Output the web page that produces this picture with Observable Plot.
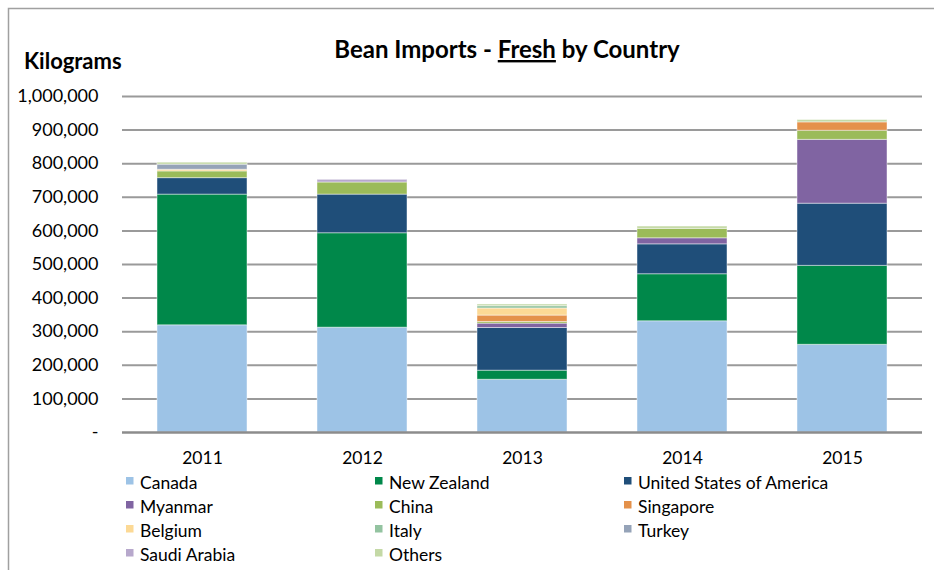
<!DOCTYPE html>
<html><head><meta charset="utf-8">
<script src="https://cdn.jsdelivr.net/npm/d3@7"></script>
<script src="https://cdn.jsdelivr.net/npm/@observablehq/plot@0.6"></script>
<style>
html,body{margin:0;padding:0;background:#fff;}
svg{display:block;}
</style>
</head><body>
<div id="chart"></div>
<script>
const years = ["2011","2012","2013","2014","2015"];
const countries = ["Canada","New Zealand","United States of America","Myanmar","China","Singapore","Belgium","Italy","Turkey","Saudi Arabia","Others"];
const colors = ["#9DC3E6","#00884A","#1F4E79","#8064A2","#9BBB59","#E4914A","#FCD995","#93C3A0","#95A3B8","#B7A8CC","#C4D9A6"];
const canada      = [319000,312000,157000,331000,261000];
const newZealand  = [389000,281000, 27000,140000,235000];
const usa         = [ 49000,115000,127000, 89000,185000];
const myanmar     = [     0,     0, 13000, 18000,190000];
const china       = [ 20000, 36000,  5000, 28000, 27000];
const singapore   = [     0,     0, 19000,     0, 25000];
const belgium     = [  5000,     0, 21000,     0,     0];
const italy       = [     0,     0,  7000,     0,     0];
const turkey      = [ 15000,     0,     0,     0,     0];
const saudiArabia = [     0,  8000,     0,     0,     0];
const others      = [  6000,     0,  5000,  7000,  7000];
const yTicks = [0,100000,200000,300000,400000,500000,600000,700000,800000,900000,1000000];

const series = [canada,newZealand,usa,myanmar,china,singapore,belgium,italy,turkey,saudiArabia,others];
const data = [];
countries.forEach((c,i)=>years.forEach((y,j)=>data.push({year:y,country:c,value:series[i][j]})));

const W=934,H=570,mL=122,mR=12,mT=96,mB=138;
const fontFam = "Lato, 'Open Sans', sans-serif";

const svg = Plot.plot({
  width:W,height:H,marginLeft:mL,marginRight:mR,marginTop:mT,marginBottom:mB,
  style:{fontFamily:fontFam,fontSize:"17px",color:"#000",background:"#fff"},
  x:{domain:years,paddingInner:0.4375,paddingOuter:0.21875,label:null},
  y:{domain:[0,1000000],label:null},
  color:{domain:countries,range:colors},
  marks:[
    Plot.ruleY(yTicks.filter(d=>d>0),{stroke:"#9a9a9a",strokeWidth:2}),
    Plot.barY(data,{x:"year",y:"value",fill:"country",stroke:"#ffffff",strokeOpacity:0.45,strokeWidth:1,order:countries}),
    Plot.ruleY([0],{stroke:"#8c8c8c",strokeWidth:2.5}),
    Plot.axisY({ticks:yTicks,tickSize:0,tickPadding:24,fontSize:18,
      tickFormat:d=>d===0?"-":d3.format(",")(d)}),
    Plot.axisX({tickSize:0,tickPadding:19,fontSize:17.5})
  ]
});
document.getElementById("chart").appendChild(svg);

const s = d3.select(svg);
// frame border
s.append("path").attr("d",`M8.5,${H} L8.5,8.5 L${W},8.5`).attr("fill","none").attr("stroke","#a0a0a0").attr("stroke-width",1.5);
// title
const t = s.append("text").attr("x",507).attr("y",58).attr("text-anchor","middle")
  .attr("font-family",fontFam).attr("font-weight","bold").attr("font-size",24).attr("fill","#000");
t.append("tspan").text("Bean Imports - ");
t.append("tspan").attr("text-decoration","underline").text("Fresh");
t.append("tspan").text(" by Country");
// y label
s.append("text").attr("x",24).attr("y",69).attr("text-anchor","start").attr("font-family",fontFam).attr("font-weight","bold")
  .attr("font-size",22).attr("fill","#000").text("Kilograms");
// legend
const colX=[126,375,624], rowY=[489,513,537,561];
const lg = s.append("g").attr("font-family",fontFam).attr("font-size",17.5).attr("fill","#000").attr("text-anchor","start");
countries.forEach((c,i)=>{
  const cx=colX[i%3], by=rowY[Math.floor(i/3)];
  lg.append("rect").attr("x",cx).attr("y",by-12).attr("width",7.5).attr("height",7.5).attr("fill",colors[i]);
  lg.append("text").attr("x",cx+14).attr("y",by).text(c);
});
</script>
</body></html>
